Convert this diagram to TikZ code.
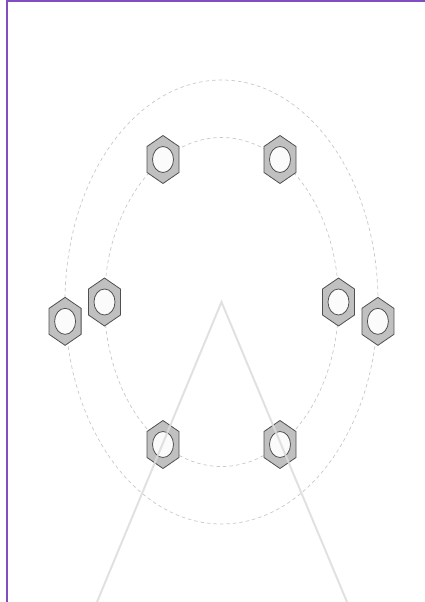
\documentclass[tikz,border=0pt]{standalone}
\usetikzlibrary{calc}
\definecolor{framepurple}{RGB}{128,78,190}
\definecolor{cabgray}{RGB}{192,192,192}
\definecolor{cabedge}{RGB}{80,80,80}
\definecolor{trackgray}{RGB}{200,200,200}
\definecolor{leggray}{RGB}{220,220,220}
\tikzset{
  track/.style={trackgray, dash pattern=on 3.5pt off 3pt, line width=0.7pt},
  leg/.style={leggray, line width=2pt, opacity=0.85},
  frameline/.style={framepurple, line width=2pt},
  pics/cabin/.style={code={
    \draw[cabedge, fill=cabgray, line width=0.8pt]
      (0,-24) -- (16,-13) -- (16,13) -- (0,24) -- (-16,13) -- (-16,-13) -- cycle;
    \draw[cabedge, fill=white!97!gray, line width=0.8pt]
      (0,0) ellipse [x radius=10.5pt, y radius=13pt];
  }},
}

\begin{document}
\begin{tikzpicture}[x=1pt, y=-1pt]
  \useasboundingbox (0,0) rectangle (425,602);
  \coordinate (hub) at (221.5,302);
  \coordinate (footL) at (97,602);
  \coordinate (footR) at (347,602);

  % tracks
  \draw[track] (hub) ellipse [x radius=156.5pt, y radius=222pt];
  \draw[track] (hub) ellipse [x radius=117pt, y radius=164.5pt];

  % cabins on the inner track
  \foreach \a in {0,60,...,300}
    \pic at ($(hub)+(\a:117 and 142.5/0.866)$) {cabin};
  % cabins on the outer track
  \pic at ($(hub)+(5:157 and 222)$) {cabin};
  \pic at ($(hub)+(175:157 and 222)$) {cabin};

  % support
  \draw[leg] (footL) -- (hub) -- (footR);

  \draw[frameline] (6.5,1.5) rectangle (440,620);
\end{tikzpicture}
\end{document}
